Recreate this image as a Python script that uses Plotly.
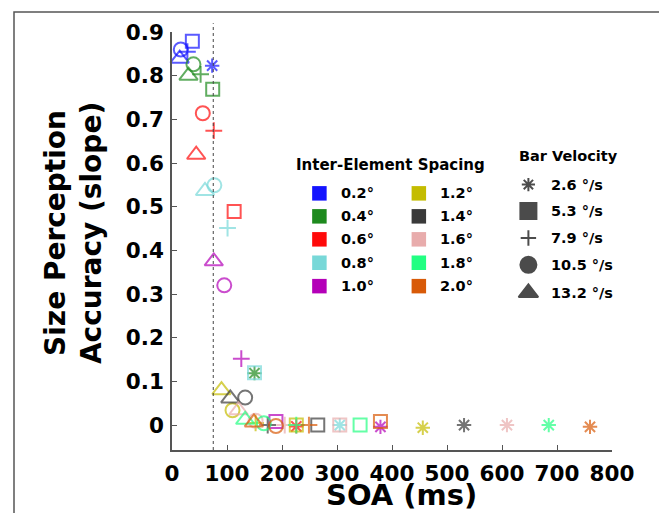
import plotly.graph_objects as go

# ---------------- data ----------------
spacings = ["0.2°", "0.4°", "0.6°", "0.8°", "1.0°", "1.2°", "1.4°", "1.6°", "1.8°", "2.0°"]
spacing_colors = ["#1414FF", "#1E8A1E", "#FF0A0A", "#78D8D8", "#B400B8",
                  "#C4BC00", "#3A3A3A", "#E8ACAC", "#22FF82", "#D85A08"]
velocities = ["2.6 °/s", "5.3 °/s", "7.9 °/s", "10.5 °/s", "13.2 °/s"]
vel_symbols_open = ["asterisk-open", "square-open", "cross-thin-open", "circle-open", "triangle-up-open"]
vel_symbols_legend = ["asterisk-open", "square", "cross-thin-open", "circle", "triangle-up"]
vel_sizes = [12, 13, 12, 14, 16]

# SOA (ms), per spacing, in velocity order (2.6, 5.3, 7.9, 10.5, 13.2 °/s)
soa_02 = [73, 37, 28, 16, 14]
soa_04 = [150, 74, 52, 39, 30]
soa_06 = [226, 113, 76, 56, 44]
soa_08 = [305, 150, 101, 77, 60]
soa_10 = [379, 189, 126, 95, 76]
soa_12 = [456, 226, 152, 110, 90]
soa_14 = [531, 265, 174, 133, 106]
soa_16 = [609, 305, 205, 152, 121]
soa_18 = [685, 342, 226, 167, 133]
soa_20 = [760, 379, 249, 189, 149]

# Size perception accuracy (slope)
acc_02 = [0.823, 0.879, 0.855, 0.860, 0.839]
acc_04 = [0.119, 0.769, 0.803, 0.826, 0.800]
acc_06 = [-0.003, 0.489, 0.674, 0.714, 0.619]
acc_08 = [0.000, 0.120, 0.451, 0.549, 0.536]
acc_10 = [-0.004, 0.008, 0.152, 0.320, 0.375]
acc_12 = [-0.006, 0.000, 0.005, 0.034, 0.080]
acc_14 = [0.000, 0.000, 0.000, 0.063, 0.061]
acc_16 = [0.000, 0.000, 0.000, 0.010, 0.034]
acc_18 = [0.000, 0.000, 0.000, 0.004, 0.012]
acc_20 = [-0.004, 0.008, 0.000, -0.002, 0.006]

soa_all = [soa_02, soa_04, soa_06, soa_08, soa_10, soa_12, soa_14, soa_16, soa_18, soa_20]
acc_all = [acc_02, acc_04, acc_06, acc_08, acc_10, acc_12, acc_14, acc_16, acc_18, acc_20]

x_ticks = [0, 100, 200, 300, 400, 500, 600, 700, 800]
y_ticks = [0, 0.1, 0.2, 0.3, 0.4, 0.5, 0.6, 0.7, 0.8, 0.9]
criterion_soa = 75

FONT = "DejaVu Sans"

fig = go.Figure()

for name, col, xs, ys in zip(spacings, spacing_colors, soa_all, acc_all):
    fig.add_trace(go.Scatter(
        x=xs, y=ys, mode="markers", name=name, showlegend=False,
        marker=dict(symbol=vel_symbols_open, size=vel_sizes, color=col,
                    line=dict(color=col, width=2)),
        cliponaxis=False,
    ))

# ---------------- custom legends (overlay axes in paper units) ----------------
col_x = [0.335, 0.561]
row_y = [0.614, 0.559, 0.504, 0.448, 0.392]
sw_x, sw_y = [], []
for i in range(len(spacings)):
    sw_x.append(col_x[i // 5])
    sw_y.append(row_y[i % 5])
fig.add_trace(go.Scatter(
    x=sw_x, y=sw_y, xaxis="x2", yaxis="y2", mode="markers", showlegend=False,
    marker=dict(symbol="square", size=14.5, color=spacing_colors, line=dict(width=0)),
    hoverinfo="skip",
))

vel_y = [0.635, 0.572, 0.507, 0.443, 0.376]
fig.add_trace(go.Scatter(
    x=[0.81] * len(velocities), y=vel_y, xaxis="x2", yaxis="y2", mode="markers", showlegend=False,
    marker=dict(symbol=vel_symbols_legend, size=[11, 16, 11, 16, 17], color="black",
                line=dict(color="black", width=2)),
    hoverinfo="skip",
))

annotations = []
for i, name in enumerate(spacings):
    annotations.append(dict(
        x=[0.3795, 0.6045][i // 5], y=row_y[i % 5], xref="paper", yref="paper",
        text=name, showarrow=False, xanchor="left", yanchor="middle",
        font=dict(family=FONT, size=14.5, color="black", weight="bold")))
for name, yy in zip(velocities, vel_y):
    annotations.append(dict(
        x=0.8575, y=yy, xref="paper", yref="paper", text=name, showarrow=False,
        xanchor="left", yanchor="middle",
        font=dict(family=FONT, size=14.5, color="black", weight="bold")))
annotations.append(dict(x=0.4975, y=0.682, xref="paper", yref="paper",
                        text="Inter-Element Spacing", showarrow=False, xanchor="center", yanchor="middle",
                        font=dict(family=FONT, size=15, color="black", weight="bold")))
annotations.append(dict(x=0.783, y=0.703, xref="paper", yref="paper",
                        text="Bar Velocity", showarrow=False, xanchor="left", yanchor="middle",
                        font=dict(family=FONT, size=14.5, color="black", weight="bold")))
# axis titles
annotations.append(dict(x=(73.5 - 172) / 440, y=(450 - 232) / 421, xref="paper", yref="paper",
                        text="Size Perception<br>Accuracy (slope)", textangle=-90, showarrow=False,
                        xanchor="center", yanchor="middle",
                        font=dict(family=FONT, size=28, color="black", weight="bold")))
annotations.append(dict(x=(401 - 172) / 440, y=(450 - 495) / 421, xref="paper", yref="paper",
                        text="SOA (ms)", showarrow=False, xanchor="center", yanchor="middle",
                        font=dict(family=FONT, size=29, color="black", weight="bold")))

shapes = [
    dict(type="line", xref="x", yref="paper", x0=criterion_soa, x1=criterion_soa, y0=0, y1=1.021,
         line=dict(color="#444444", width=1, dash="dot")),
    dict(type="rect", xref="paper", yref="paper",
         x0=(14 - 172) / 440, x1=(666 - 172) / 440, y0=-0.3, y1=(450 - 8.8) / 421,
         line=dict(color="#555555", width=1.5)),
]

# The page body has an 8px default margin, so the figure is sized 8px smaller.
fig.update_layout(
    width=659, height=505,
    margin=dict(l=164, r=55, t=21, b=63),
    plot_bgcolor="white", paper_bgcolor="white",
    annotations=annotations, shapes=shapes,
    xaxis=dict(range=[0, 800], tickvals=x_ticks, ticks="inside", ticklen=5, tickcolor="#555555",
               showline=True, linecolor="#555555", linewidth=1.5, showgrid=False, zeroline=False,
               tickfont=dict(family=FONT, size=21.5, color="black", weight="bold"), ticklabelstandoff=3),
    yaxis=dict(range=[-0.057, 0.9], tickvals=y_ticks, ticks="inside", ticklen=5, tickcolor="#555555",
               showline=True, linecolor="#555555", linewidth=1.5, showgrid=False, zeroline=False,
               tickfont=dict(family=FONT, size=21.5, color="black", weight="bold"), ticklabelstandoff=2),
    xaxis2=dict(range=[0, 1], overlaying="x", visible=False),
    yaxis2=dict(range=[0, 1], overlaying="y", visible=False),
)

fig.write_html("out.html")
